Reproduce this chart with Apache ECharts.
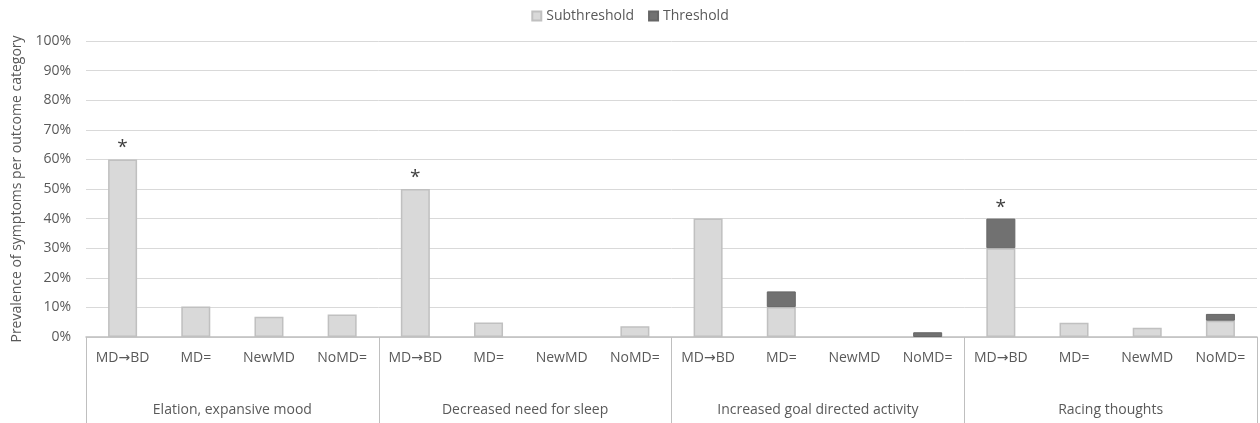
<!DOCTYPE html>
<html><head><meta charset="utf-8">
<script src="https://cdn.jsdelivr.net/npm/echarts@6/dist/echarts.min.js"></script>
<style>html,body{margin:0;padding:0;background:#fff}#c{width:1260px;height:423px}</style>
</head><body><div id="c"></div>
<script>
var categories = ['MD→BD','MD=','NewMD','NoMD=','MD→BD','MD=','NewMD','NoMD=','MD→BD','MD=','NewMD','NoMD=','MD→BD','MD=','NewMD','NoMD='];
var groups = ['Elation, expansive mood','Decreased need for sleep','Increased goal directed activity','Racing thoughts'];
var subthreshold = [60,10.3,6.8,7.6, 50,4.9,0,3.6, 40,10.1,0,0, 30,4.8,3.1,5.5];
var threshold = [0,0,0,0, 0,0,0,0, 0,5.3,0,1.6, 10,0,0,2.3];
var significant = [1,0,0,0, 1,0,0,0, 0,0,0,0, 1,0,0,0];
var yTicks = [0,10,20,30,40,50,60,70,80,90,100];

var FONT = '"Open Sans", sans-serif';
function toItems(arr){
  return arr.map(function(v){
    return v === 0 ? {value:v,itemStyle:{color:'rgba(0,0,0,0)',borderWidth:0}} : v;
  });
}
function catFmt(v){
  if (v.indexOf('→') >= 0) {
    var parts = v.split('→');
    return '{t|' + parts[0] + '}{a|→}{t|' + parts[1] + '}';
  }
  return '{t|' + v + '}';
}
var chart = echarts.init(document.getElementById('c'));
chart.setOption({
  animation:false,
  textStyle:{fontFamily:FONT},
  legend:{top:4,left:'center',itemWidth:9,itemHeight:9,itemGap:14,icon:'rect',
    textStyle:{fontSize:14,color:'#595959',fontFamily:FONT},
    data:['Subthreshold','Threshold']},
  grid:{left:86,right:3,top:41,bottom:86},
  xAxis:[{type:'category',data:categories,position:'bottom',
      axisLine:{lineStyle:{color:'#bfbfbf',width:1.5}},axisTick:{show:false},
      axisLabel:{color:'#595959',fontSize:14,margin:14,interval:0,fontFamily:FONT,
        formatter:catFmt,
        rich:{t:{fontSize:14,color:'#595959',fontFamily:FONT},
              a:{fontSize:14,color:'#595959',fontFamily:'"DejaVu Sans", sans-serif'}}}},
    {type:'category',data:groups,position:'bottom',
      axisLine:{show:false},
      axisTick:{show:true,length:88,lineStyle:{color:'#bfbfbf',width:1}},
      axisLabel:{color:'#595959',fontSize:14,margin:66,interval:0,fontFamily:FONT}}],
  yAxis:{type:'value',min:yTicks[0],max:yTicks[yTicks.length-1],interval:10,
    name:'Prevalence of symptoms per outcome category',nameLocation:'middle',nameGap:61,
    nameTextStyle:{color:'#595959',fontSize:14,fontFamily:FONT},
    axisLine:{show:false},axisTick:{show:false},
    axisLabel:{formatter:'{value}%',color:'#595959',fontSize:14,margin:15,fontFamily:FONT},
    splitLine:{lineStyle:{color:'#d9d9d9',width:1}}},
  series:[
    {name:'Subthreshold',type:'bar',stack:'s',barWidth:29,xAxisIndex:0,
      data:toItems(subthreshold),
      itemStyle:{color:'#d9d9d9',borderColor:'#c0c0c0',borderWidth:1.5}},
    {name:'Threshold',type:'bar',stack:'s',barWidth:29,xAxisIndex:0,
      data:toItems(threshold),
      itemStyle:{color:'#717171',borderColor:'#666666',borderWidth:1},
      label:{show:true,position:'top',distance:2,fontSize:19,color:'#404040',
        formatter:function(p){return significant[p.dataIndex]?'*':'';}}}
  ]
});
</script></body></html>
